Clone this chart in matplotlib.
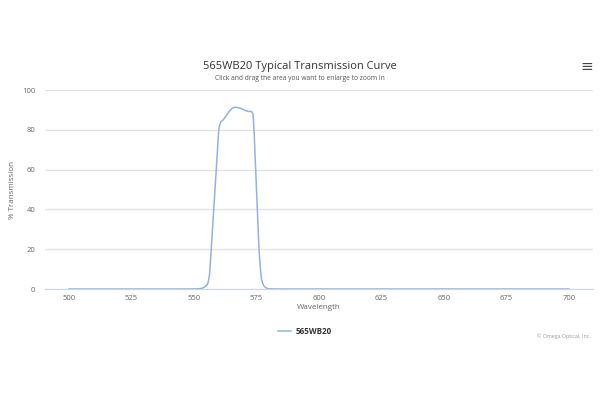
import matplotlib
matplotlib.use("Agg")
import matplotlib.pyplot as plt

# Data
wavelength = [500, 510, 520, 530, 540, 545, 550, 552, 553, 554, 555, 555.6, 556.2, 556.9,
              557.5, 558.3, 559, 559.9, 560.4, 560.8, 561.5, 562.2, 563, 564, 565, 566,
              567, 568, 569, 570, 571, 572, 573, 573.6, 574, 574.5, 575, 575.5, 576,
              576.5, 577, 577.7, 578.5, 579.5, 581, 585, 590, 600, 620, 640, 660, 680, 700]
transmission = [0, 0, 0, 0, 0, 0, 0.05, 0.15, 0.3, 0.8, 1.8, 3, 7, 20,
                 32, 48, 62, 80, 83, 84.2, 84.8, 85.8, 87.3, 89, 90.6, 91.3,
                 91.3, 91, 90.6, 90, 89.5, 89.2, 89.2, 88, 80, 65, 50, 35, 20,
                 11, 5, 2, 0.8, 0.2, 0.05, 0, 0, 0, 0, 0, 0, 0, 0]
x_ticks = [500, 525, 550, 575, 600, 625, 650, 675, 700]
y_ticks = [0, 20, 40, 60, 80, 100]
series_name = "565WB20"
title = "565WB20 Typical Transmission Curve"
subtitle = "Click and drag the area you want to enlarge to zoom in"
credit = "© Omega Optical, Inc."

plt.rcParams['font.family'] = ['Open Sans', 'DejaVu Sans']

fig = plt.figure(figsize=(6, 4), dpi=100)
ax = fig.add_axes([45/600, 1 - 289/400, (593 - 45)/600, (289 - 90)/400])

line_color = '#93b1e2'
ax.plot(wavelength, transmission, color=line_color, lw=1.1, label=series_name)

ax.set_xlim(490.4, 709.6)
ax.set_ylim(0, 100)
ax.set_xticks(x_ticks)
ax.set_yticks(y_ticks)
ax.grid(axis='y', color='#e3e3e3', lw=1)
ax.set_axisbelow(True)
for s in ['top', 'right', 'left']:
    ax.spines[s].set_visible(False)
ax.spines['bottom'].set_color('#ccd6eb')
ax.tick_params(axis='y', length=0, pad=7, labelsize=5.5, labelcolor='#666666')
ax.tick_params(axis='x', length=0, pad=4, labelsize=5.5, labelcolor='#666666')
ax.set_xlabel('Wavelength', fontsize=5.8, color='#666666', labelpad=2)
ax.set_ylabel('% Transmission', fontsize=5.8, color='#666666', labelpad=4)

fig.text(0.5, 1 - 67/400, title, ha='center', va='center', fontsize=8, color='#333333')
fig.text(0.5, 1 - 79/400, subtitle, ha='center', va='center', fontsize=4.8, color='#555555')
fig.text(591/600, 1 - 336/400, credit, ha='right', va='center', fontsize=3.8, color='#999999')
fig.text(587/600, 1 - 67/400, '≡', ha='center', va='center', fontsize=11, color='#444444',
         family=['DejaVu Sans'])

leg = fig.legend(loc='center', bbox_to_anchor=(305/600, 1 - 331/400), frameon=False,
                 fontsize=5.8, handlelength=1.6, handletextpad=0.5)
for t in leg.get_texts():
    t.set_color('#333333')
    t.set_fontweight('bold')

fig.savefig('out.png', dpi=100, facecolor='white')
